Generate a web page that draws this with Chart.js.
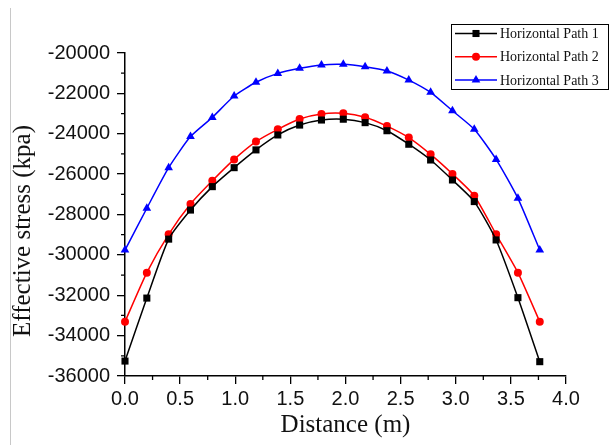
<!DOCTYPE html>
<html>
<head>
<meta charset="utf-8">
<script src="https://cdn.jsdelivr.net/npm/chart.js@4/dist/chart.umd.min.js"></script>
<style>
  html, body { margin: 0; padding: 0; background: #fff; }
  #wrap { position: relative; width: 616px; height: 445px; }
  #edge { position: absolute; left: 10px; top: 8px; bottom: 0; border-left: 1px solid #c8c8c8; }
</style>
</head>
<body>
<div id="wrap">
  <canvas id="c"></canvas>
  <div id="edge"></div>
</div>
<script>
// ---- data ----
const distance = [0, 0.198, 0.396, 0.594, 0.792, 0.99, 1.188, 1.386, 1.584, 1.782, 1.98, 2.178, 2.376, 2.574, 2.772, 2.97, 3.168, 3.366, 3.564, 3.762];
const path1 = [-35260, -32140, -29220, -27780, -26620, -25680, -24800, -24060, -23570, -23320, -23280, -23450, -23850, -24520, -25300, -26290, -27360, -29260, -32120, -35290];
const path2 = [-33310, -30880, -28980, -27480, -26330, -25270, -24390, -23780, -23270, -23020, -22990, -23180, -23620, -24190, -25020, -25990, -27070, -28980, -30880, -33310];
const path3 = [-29760, -27690, -25680, -24140, -23190, -22130, -21450, -21010, -20760, -20590, -20560, -20680, -20890, -21340, -21950, -22860, -23780, -25270, -27200, -29760];
const seriesNames = ['Horizontal Path 1', 'Horizontal Path 2', 'Horizontal Path 3'];
const xTitle = 'Distance (m)';
const yTitle = 'Effective stress (kpa)';
const xMinorTicks = [0.25, 0.75, 1.25, 1.75, 2.25, 2.75, 3.25, 3.75];
const yMinorTicks = [-21000, -23000, -25000, -27000, -29000, -31000, -33000, -35000];

const toPts = arr => arr.map((v, i) => ({ x: distance[i], y: v }));

const styles = [
  { color: '#000000', pointStyle: 'rect', radius: 5 },
  { color: '#ff0000', pointStyle: 'circle', radius: 4 },
  { color: '#0000ff', pointStyle: 'triangle', radius: 5 }
];
const values = [path1, path2, path3];

const datasets = values.map((arr, i) => ({
  label: seriesNames[i],
  data: toPts(arr),
  borderColor: styles[i].color,
  backgroundColor: styles[i].color,
  pointStyle: styles[i].pointStyle,
  pointRadius: styles[i].radius,
  pointBorderWidth: 0,
  borderWidth: 1.5,
  tension: 0.2,
  clip: 10
}));

const extras = {
  id: 'extras',
  afterDraw(chart) {
    const ctx = chart.ctx;
    const xs = chart.scales.x, ys = chart.scales.y;
    ctx.save();
    // minor ticks
    ctx.strokeStyle = '#000';
    ctx.lineWidth = 1.3;
    ctx.beginPath();
    xMinorTicks.forEach(v => {
      const px = xs.getPixelForValue(v);
      ctx.moveTo(px, ys.bottom);
      ctx.lineTo(px, ys.bottom + 4);
    });
    yMinorTicks.forEach(v => {
      const py = ys.getPixelForValue(v);
      ctx.moveTo(xs.left, py);
      ctx.lineTo(xs.left - 4, py);
    });
    ctx.stroke();
    // y title
    ctx.fillStyle = '#111';
    ctx.font = '25px "Liberation Serif", "Times New Roman", serif';
    ctx.textAlign = 'center';
    ctx.textBaseline = 'middle';
    ctx.translate(23, 231);
    ctx.rotate(-Math.PI / 2);
    ctx.fillText(yTitle, 0, 0);
    ctx.restore();
    // legend
    ctx.save();
    const bx = 451, by = 24, bw = 157, bh = 65;
    ctx.fillStyle = '#fff';
    ctx.fillRect(bx, by, bw, bh);
    ctx.strokeStyle = '#000';
    ctx.lineWidth = 1;
    ctx.strokeRect(bx + 0.5, by + 0.5, bw, bh);
    chart.data.datasets.forEach((ds, i) => {
      const y = 33.5 + i * 23.3;
      ctx.strokeStyle = ds.borderColor;
      ctx.lineWidth = 1.5;
      ctx.beginPath();
      ctx.moveTo(455, y);
      ctx.lineTo(497, y);
      ctx.stroke();
      ctx.fillStyle = ds.backgroundColor;
      Chart.helpers.drawPoint(ctx, { pointStyle: ds.pointStyle, radius: ds.pointRadius, rotation: 0, borderWidth: 0 }, 476, y);
      ctx.fillStyle = '#111';
      ctx.font = '14px "Liberation Serif", "Times New Roman", serif';
      ctx.textAlign = 'left';
      ctx.textBaseline = 'middle';
      ctx.fillText(ds.label, 500, y + 1);
    });
    ctx.restore();
  }
};

new Chart(document.getElementById('c'), {
  type: 'line',
  data: { datasets },
  plugins: [extras],
  options: {
    responsive: true,
    maintainAspectRatio: false,
    animation: false,
    layout: { padding: { top: 53, right: 50, left: 0, bottom: 0 } },
    plugins: { legend: { display: false }, tooltip: { enabled: false } },
    scales: {
      x: {
        type: 'linear',
        min: 0, max: 4,
        afterFit: s => { s.height = 69; },
        ticks: {
          stepSize: 0.5,
          padding: 3,
          color: '#111',
          font: { family: '"Liberation Sans", Arial, sans-serif', size: 20 },
          callback: v => Number(v).toFixed(1),
          maxRotation: 0
        },
        grid: { drawOnChartArea: false, drawTicks: true, tickLength: 8, color: '#000', lineWidth: 1.3 },
        border: { display: true, color: '#000', width: 1.5 },
        title: {
          display: true, text: xTitle, color: '#111',
          font: { family: '"Liberation Serif", "Times New Roman", serif', size: 25 },
          padding: { top: 0, bottom: 5 }
        }
      },
      y: {
        type: 'linear',
        min: -36000, max: -20000,
        afterFit: s => { s.width = 125; },
        ticks: {
          stepSize: 2000,
          padding: 7,
          color: '#111',
          font: { family: '"Liberation Sans", Arial, sans-serif', size: 20 },
          callback: v => String(v)
        },
        grid: { drawOnChartArea: false, drawTicks: true, tickLength: 8, color: '#000', lineWidth: 1.3 },
        border: { display: true, color: '#000', width: 1.5 }
      }
    }
  }
});
</script>
</body>
</html>
